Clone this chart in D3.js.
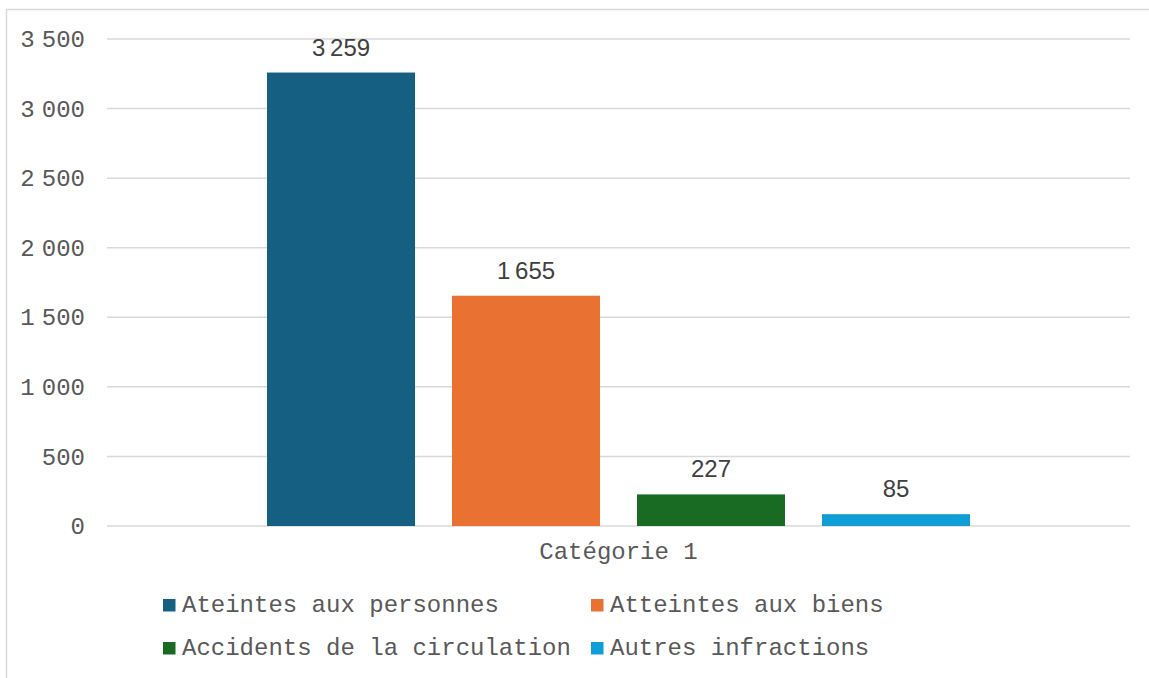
<!DOCTYPE html>
<html>
<head>
<meta charset="utf-8">
<title>Catégorie 1</title>
<script src="https://cdn.jsdelivr.net/npm/d3@7"></script>
<style>
  body { margin: 0; background: #fff; }
  svg { display: block; }
</style>
</head>
<body>
<script>
// data
var categories = ['Catégorie 1']
var series = ['Ateintes aux personnes', 'Atteintes aux biens', 'Accidents de la circulation', 'Autres infractions']
var values = [3259, 1655, 227, 85]
var colors = ['#156082', '#E97132', '#196B24', '#0F9ED5']
var yTicks = [0, 500, 1000, 1500, 2000, 2500, 3000, 3500]

var W = 1149, H = 678
var margin = { top: 39, right: 19, bottom: 152, left: 107 }
var h = H - margin.top - margin.bottom
var w = W - margin.left - margin.right

var fr = d3.formatLocale({ decimal: ',', thousands: '\u202f', grouping: [3], currency: ['', ' €'] })
var fmt = fr.format(',d')

var svg = d3.select('body').append('svg')
    .attr('width', W)
    .attr('height', H)

// frame
svg.append('rect')
    .attr('x', 6.5).attr('y', 9.5)
    .attr('width', W + 10).attr('height', H + 10)
    .attr('fill', 'none')
    .attr('stroke', '#d9d9d9')
    .attr('stroke-width', 1.5)

var g = svg.append('g')
    .attr('transform', 'translate(' + margin.left + ',' + margin.top + ')')

var yScale = d3.scaleLinear().domain([0, 3500]).range([h, 0])

var x0 = d3.scaleBand().domain(categories).range([0, w]).paddingInner(0).paddingOuter(0.2276)
var x1 = d3.scaleBand().domain(series).range([0, x0.bandwidth()]).paddingInner(0.2).paddingOuter(0)

// gridlines
g.selectAll('line.grid')
    .data(yTicks)
    .enter().append('line')
    .attr('class', 'grid')
    .attr('x1', 0).attr('x2', w)
    .attr('y1', function (d) { return yScale(d) })
    .attr('y2', function (d) { return yScale(d) })
    .attr('stroke', '#d9d9d9')
    .attr('stroke-width', 1.5)

// y axis labels
var yAxis = d3.axisLeft(yScale).tickValues(yTicks).tickSize(0).tickPadding(22).tickFormat(fmt)
var ya = g.append('g').call(yAxis)
ya.select('.domain').remove()
ya.selectAll('text')
    .attr('font-family', '"Liberation Mono", monospace')
    .attr('font-size', 24)
    .attr('fill', '#595959')

// x axis label
var xAxis = d3.axisBottom(x0).tickSize(0).tickPadding(16)
var xa = g.append('g').attr('transform', 'translate(0,' + h + ')').call(xAxis)
xa.select('.domain').remove()
xa.selectAll('text')
    .attr('font-family', '"Liberation Mono", monospace')
    .attr('font-size', 24)
    .attr('fill', '#595959')

// bars
var cat = g.append('g').attr('transform', 'translate(' + x0(categories[0]) + ',0)')
var rows = series.map(function (s, i) { return { name: s, value: values[i], color: colors[i] } })

cat.selectAll('rect')
    .data(rows)
    .enter().append('rect')
    .attr('x', function (d) { return x1(d.name) })
    .attr('y', function (d) { return yScale(d.value) })
    .attr('width', x1.bandwidth())
    .attr('height', function (d) { return h - yScale(d.value) })
    .attr('fill', function (d) { return d.color })

// data labels
cat.selectAll('text.lbl')
    .data(rows)
    .enter().append('text')
    .attr('class', 'lbl')
    .attr('x', function (d) { return x1(d.name) + x1.bandwidth() / 2 })
    .attr('y', function (d) { return yScale(d.value) - 17 })
    .attr('text-anchor', 'middle')
    .attr('font-family', '"Liberation Sans", Arial, sans-serif')
    .attr('font-size', 24)
    .attr('fill', '#404040')
    .text(function (d) { return fmt(d.value) })

// legend
var legX = 163, legY = 599, colW = 428, rowH = 43, sq = 12.5
var leg = svg.append('g')
var items = leg.selectAll('g')
    .data(rows)
    .enter().append('g')
    .attr('transform', function (d, i) {
        return 'translate(' + (legX + (i % 2) * colW) + ',' + (legY + Math.floor(i / 2) * rowH) + ')'
    })
items.append('rect')
    .attr('width', sq).attr('height', sq)
    .attr('fill', function (d) { return d.color })
items.append('text')
    .attr('x', 19)
    .attr('y', sq)
    .attr('font-family', '"Liberation Mono", monospace')
    .attr('font-size', 24)
    .attr('fill', '#595959')
    .text(function (d) { return d.name })
</script>
</body>
</html>
